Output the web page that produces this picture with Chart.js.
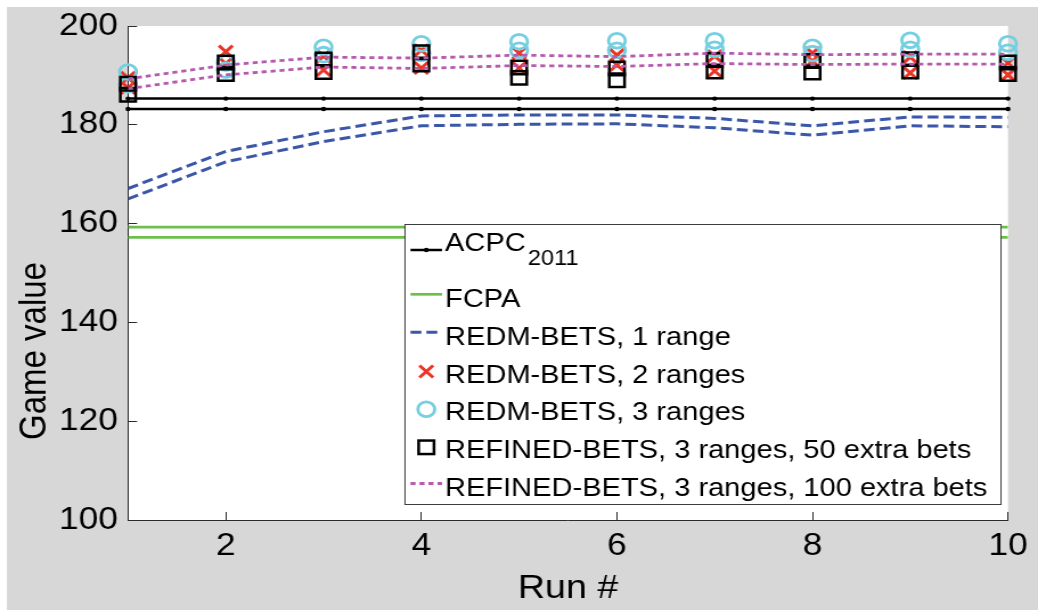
<!DOCTYPE html>
<html>
<head>
<meta charset="utf-8">
<title>Game value per run</title>
<script src="https://cdn.jsdelivr.net/npm/chart.js@4.4.1/dist/chart.umd.min.js"></script>
<style>
  html, body { margin: 0; padding: 0; background: #ffffff; overflow: hidden; }
  #wrap { position: absolute; left: 0; top: 0; width: 1038px; height: 610px; overflow: hidden; }
  /* the figure is laid out at 911 px and widened to the 1038 px page */
  #chart { position: absolute; left: 0; top: 0; transform-origin: 0 0; transform: scaleX(1.13941); }
</style>
</head>
<body>
<div id="wrap"><canvas id="chart" width="911" height="610"></canvas></div>
<script>
// ---- data -------------------------------------------------------------
const runs = [1, 2, 3, 4, 5, 6, 7, 8, 9, 10];
const xTicks = [2, 4, 6, 8, 10];
const yTicks = [100, 120, 140, 160, 180, 200];

const acpcUpper = [185.3, 185.3, 185.3, 185.3, 185.3, 185.3, 185.3, 185.3, 185.3, 185.3];
const acpcLower = [183.2, 183.2, 183.2, 183.2, 183.2, 183.2, 183.2, 183.2, 183.2, 183.2];

const fcpaUpper = [159.3, 159.3, 159.3, 159.3, 159.3, 159.3, 159.3, 159.3, 159.3, 159.3];
const fcpaLower = [157.2, 157.2, 157.2, 157.2, 157.2, 157.2, 157.2, 157.2, 157.2, 157.2];

const redm1Upper = [167.1, 174.6, 178.6, 181.8, 182.0, 182.0, 181.3, 179.8, 181.6, 181.5];
const redm1Lower = [165.0, 172.5, 176.6, 179.8, 180.1, 180.2, 179.4, 177.9, 179.8, 179.6];

const redm2Upper = [189.5, 194.8, 193.9, 195.1, 194.5, 194.1, 193.9, 194.5, 193.7, 192.5];
const redm2Lower = [187.5, 192.4, 191.1, 191.5, 191.5, 192.1, 190.9, 192.9, 190.5, 190.1];

const redm3Upper = [190.7, 192.5, 195.7, 196.4, 196.8, 197.0, 197.0, 195.7, 197.1, 196.4];
const redm3Lower = [188.1, 191.1, 194.2, 194.5, 195.1, 195.1, 195.3, 194.4, 195.3, 194.7];

const refined50Upper = [188.3, 192.6, 193.2, 194.7, 191.6, 191.4, 193.1, 192.9, 193.3, 192.6];
const refined50Lower = [186.1, 190.3, 190.7, 192.2, 189.5, 189.0, 190.8, 190.6, 190.8, 190.3];

const refined100Upper = [189.3, 192.1, 193.7, 193.5, 194.1, 193.8, 194.5, 194.2, 194.3, 194.3];
const refined100Lower = [187.3, 190.1, 191.7, 191.4, 192.0, 191.8, 192.4, 192.2, 192.3, 192.3];

const seriesNames = [
  'ACPC',
  'FCPA',
  'REDM-BETS, 1 range',
  'REDM-BETS, 2 ranges',
  'REDM-BETS, 3 ranges',
  'REFINED-BETS, 3 ranges, 50 extra bets',
  'REFINED-BETS, 3 ranges, 100 extra bets'
];
const acpcSubscript = '2011';
const xTitle = 'Run #';
const yTitle = 'Game value';

// ---- styling ----------------------------------------------------------
const SX = 1038 / 911;           // horizontal widening applied by CSS
const FONT = '"Liberation Sans", Arial, Helvetica, sans-serif';
const C = {
  acpc: '#000000',
  fcpa: '#6cbf4b',
  redm1: '#3a57a8',
  redm2: '#ec3527',
  redm3: '#74cfe0',
  ref50: '#000000',
  ref100: '#b65aae',
  axis: '#2b2b2b',
  frame: '#d6d7d6'
};
const DASH_BLUE = [9.5, 4.5];
const DASH_PINK = [4.4, 3.5];

// target axes box, in canvas units
const BOX = { left: 128 / SX, right: 1008 / SX, top: 26, bottom: 520 };

const pts = arr => runs.map((r, i) => ({ x: r, y: arr[i] }));

function lineSet(data, color, width, dash, order, extra) {
  return Object.assign({
    data: pts(data), borderColor: color, borderWidth: width, borderDash: dash,
    pointRadius: 0, tension: 0, fill: false, order, borderCapStyle: 'butt'
  }, extra || {});
}
function markerSet(data, color, style, radius, width, order) {
  return {
    data: pts(data), showLine: false, pointStyle: style, pointRadius: radius,
    pointBorderWidth: width, pointBorderColor: color, borderColor: color,
    pointBackgroundColor: 'rgba(0,0,0,0)', backgroundColor: 'rgba(0,0,0,0)',
    order, clip: false
  };
}

const acpcDots = { pointRadius: 2.2, pointBackgroundColor: C.acpc, pointBorderWidth: 0, clip: false };

const datasets = [
  lineSet(acpcUpper, C.acpc, 2.5, [], 7, acpcDots),
  lineSet(acpcLower, C.acpc, 2.5, [], 7, acpcDots),
  lineSet(fcpaUpper, C.fcpa, 2.7, [], 6),
  lineSet(fcpaLower, C.fcpa, 2.7, [], 6),
  lineSet(redm1Upper, C.redm1, 3, DASH_BLUE, 5),
  lineSet(redm1Lower, C.redm1, 3, DASH_BLUE, 5),
  markerSet(redm2Upper, C.redm2, 'crossRot', 8.5, 3, 4),
  markerSet(redm2Lower, C.redm2, 'crossRot', 8.5, 3, 4),
  markerSet(redm3Upper, C.redm3, 'circle', 7.4, 2.8, 3),
  markerSet(redm3Lower, C.redm3, 'circle', 7.4, 2.8, 3),
  markerSet(refined50Upper, C.ref50, 'rect', 9.5, 2.5, 2),
  markerSet(refined50Lower, C.ref50, 'rect', 9.5, 2.5, 2),
  lineSet(refined100Upper, C.ref100, 2.8, DASH_PINK, 1),
  lineSet(refined100Lower, C.ref100, 2.8, DASH_PINK, 1)
];

// grey figure frame with a white axes box
const figureFrame = {
  id: 'figureFrame',
  beforeDraw(chart) {
    const { ctx, width, height, chartArea: a } = chart;
    ctx.save();
    ctx.fillStyle = '#ffffff';
    ctx.fillRect(0, 0, width, height);
    ctx.fillStyle = C.frame;
    ctx.fillRect(7 / SX, 7, width, height);
    ctx.fillStyle = '#ffffff';
    ctx.fillRect(a.left, a.top, a.right - a.left, a.bottom - a.top);
    ctx.restore();
  }
};

// axis titles
const axisTitles = {
  id: 'axisTitles',
  afterDraw(chart) {
    const { ctx, chartArea: a } = chart;
    ctx.save();
    ctx.fillStyle = '#000';
    ctx.font = '33px ' + FONT;
    ctx.textAlign = 'center';
    ctx.textBaseline = 'middle';
    ctx.fillText(xTitle, (a.left + a.right) / 2, 589);
    ctx.translate(35 / SX, 351);
    ctx.rotate(-Math.PI / 2);
    ctx.fillText(yTitle, 0, 0);
    ctx.restore();
  }
};

// boxed legend inside the axes
const boxedLegend = {
  id: 'boxedLegend',
  afterDraw(chart) {
    const ctx = chart.ctx;
    const bx0 = 405 / SX, bx1 = 1001 / SX, by0 = 224.5, by1 = 504.5;
    const s0 = 410.5 / SX, s1 = 442 / SX, sm = 426.3 / SX, tx = 445 / SX;
    ctx.save();
    ctx.fillStyle = '#ffffff';
    ctx.fillRect(bx0, by0, bx1 - bx0, by1 - by0);
    ctx.strokeStyle = '#3c3c3c';
    ctx.lineWidth = 1;
    ctx.strokeRect(bx0, by0, bx1 - bx0, by1 - by0);

    const baselines = [251, 306.5, 344.5, 382.8, 420.3, 457.7, 495.5];
    const sampleY = [250, 294.3, 332.3, 371.5, 409.3, 447.3, 483.5];

    const seg = (y, color, w, dash) => {
      ctx.save();
      ctx.strokeStyle = color; ctx.lineWidth = w; ctx.setLineDash(dash);
      ctx.beginPath(); ctx.moveTo(s0, y); ctx.lineTo(s1, y); ctx.stroke();
      ctx.restore();
    };
    // ACPC: solid line with a dot
    seg(sampleY[0], C.acpc, 2.5, []);
    ctx.fillStyle = C.acpc;
    ctx.beginPath(); ctx.arc(sm, sampleY[0], 2.2, 0, Math.PI * 2); ctx.fill();
    // FCPA
    seg(sampleY[1], C.fcpa, 2.7, []);
    // REDM-BETS, 1 range
    seg(sampleY[2], C.redm1, 3, DASH_BLUE);
    // REDM-BETS, 2 ranges: x marker
    ctx.save();
    ctx.strokeStyle = C.redm2; ctx.lineWidth = 3;
    const d = 6;
    ctx.beginPath();
    ctx.moveTo(sm - d, sampleY[3] - d); ctx.lineTo(sm + d, sampleY[3] + d);
    ctx.moveTo(sm + d, sampleY[3] - d); ctx.lineTo(sm - d, sampleY[3] + d);
    ctx.stroke();
    // REDM-BETS, 3 ranges: circle
    ctx.strokeStyle = C.redm3; ctx.lineWidth = 2.8;
    ctx.beginPath(); ctx.arc(sm, sampleY[4], 7.4, 0, Math.PI * 2); ctx.stroke();
    // REFINED-BETS 50: square
    ctx.strokeStyle = C.ref50; ctx.lineWidth = 2.5;
    ctx.strokeRect(sm - 6.75, sampleY[5] - 6.75, 13.5, 13.5);
    ctx.restore();
    // REFINED-BETS 100: dotted
    seg(sampleY[6], C.ref100, 2.8, DASH_PINK);

    // entry texts, slightly condensed
    const k = 0.962;
    ctx.save();
    ctx.translate(tx, 0);
    ctx.scale(k, 1);
    ctx.fillStyle = '#000';
    ctx.textAlign = 'left';
    ctx.textBaseline = 'alphabetic';
    ctx.font = '26.5px ' + FONT;
    seriesNames.forEach((name, i) => ctx.fillText(name, 0, baselines[i]));
    const w = ctx.measureText(seriesNames[0]).width;
    ctx.font = '21.5px ' + FONT;
    ctx.fillText(acpcSubscript, w + 2, 265);
    ctx.restore();
    ctx.restore();
  }
};

const tickFont = { family: FONT, size: 31 };

const chart = new Chart(document.getElementById('chart'), {
  type: 'line',
  data: { datasets },
  options: {
    responsive: false,
    animation: false,
    devicePixelRatio: 1,
    events: [],
    layout: { padding: { left: 0, top: BOX.top, right: 911 - BOX.right, bottom: 0 } },
    plugins: { legend: { display: false }, tooltip: { enabled: false } },
    scales: {
      x: {
        type: 'linear', min: 1, max: 10,
        afterBuildTicks: s => { s.ticks = xTicks.map(v => ({ value: v })); },
        afterFit: s => { s.height = 610 - BOX.bottom; s.paddingLeft = 0; s.paddingRight = 0; },
        grid: { drawOnChartArea: false, drawTicks: true, tickLength: -8, color: C.axis, lineWidth: 1 },
        border: { display: true, color: C.axis, width: 1 },
        ticks: { padding: 16, color: '#000', font: tickFont, maxRotation: 0, autoSkip: false }
      },
      y: {
        type: 'linear', min: 100, max: 200,
        afterBuildTicks: s => { s.ticks = yTicks.map(v => ({ value: v })); },
        afterFit: s => { s.width = BOX.left; s.paddingTop = 0; s.paddingBottom = 0; },
        grid: { drawOnChartArea: false, drawTicks: true, tickLength: -8, color: C.axis, lineWidth: 1 },
        border: { display: true, color: C.axis, width: 1 },
        ticks: { padding: 16.8, color: '#000', font: tickFont, autoSkip: false }
      }
    }
  },
  plugins: [figureFrame, axisTitles, boxedLegend]
});

// settle the axes box on its target edges
const area = chart.chartArea;
const pad = chart.options.layout.padding;
const dTop = area.top - BOX.top;
const dRight = BOX.right - area.right;
if (Math.abs(dTop) > 0.5 || Math.abs(dRight) > 0.5) {
  pad.top = Math.max(0, pad.top - dTop);
  pad.right = Math.max(0, pad.right - dRight);
  chart.update();
}
</script>
</body>
</html>
